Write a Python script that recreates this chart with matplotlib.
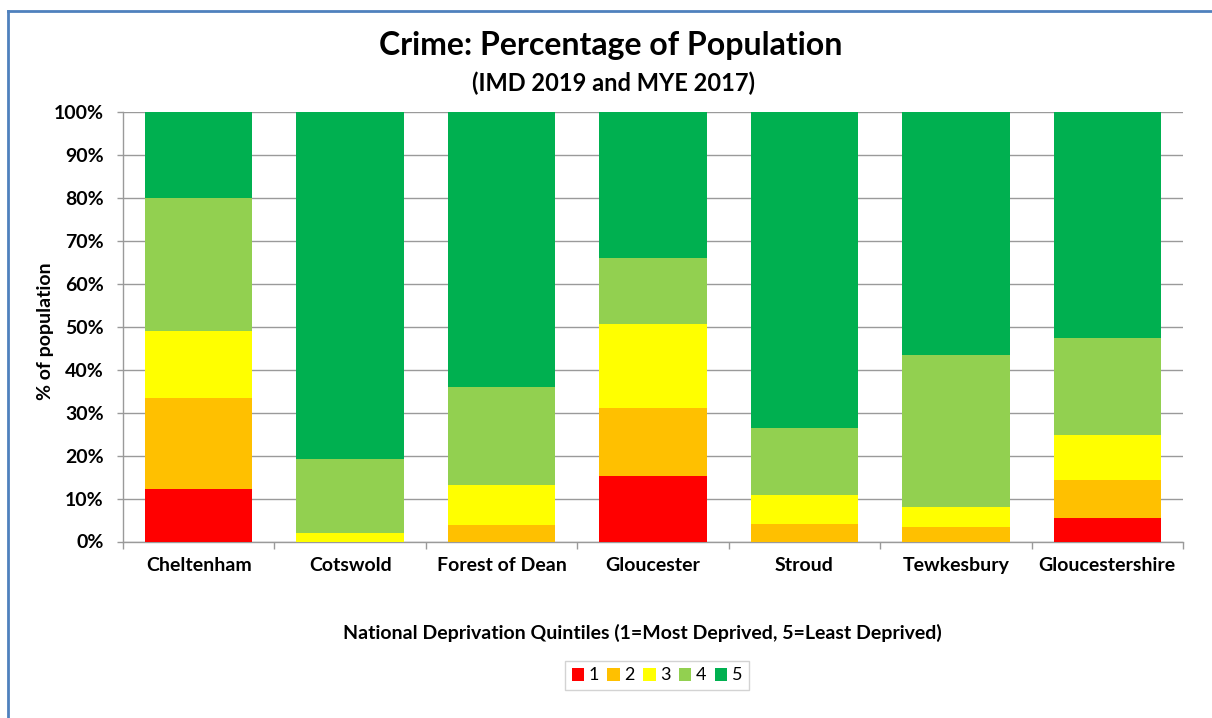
import matplotlib
matplotlib.use("Agg")
import matplotlib.pyplot as plt
from matplotlib.patches import Patch
from matplotlib.ticker import PercentFormatter
from matplotlib.lines import Line2D
import numpy as np

plt.rcParams['font.family'] = ['Lato', 'DejaVu Sans']

categories = ["Cheltenham", "Cotswold", "Forest of Dean", "Gloucester", "Stroud", "Tewkesbury", "Gloucestershire"]
q1 = [12.3, 0.0, 0.0, 15.3, 0.0, 0.0, 5.5]
q2 = [21.2, 0.0, 3.9, 15.8, 4.0, 3.4, 8.9]
q3 = [15.4, 2.0, 9.2, 19.6, 6.9, 4.6, 10.4]
q4 = [31.0, 17.2, 22.8, 15.3, 15.6, 35.4, 22.5]
q5 = [20.1, 80.8, 64.1, 34.0, 73.5, 56.6, 52.7]
series = [q1, q2, q3, q4, q5]
series_labels = ["1", "2", "3", "4", "5"]
colors = ["#FF0000", "#FFC000", "#FFFF00", "#92D050", "#00B050"]

W, H = 1212, 718
fig = plt.figure(figsize=(W / 100, H / 100), dpi=100)

def fx(px):
    return px / W

def fy(py):
    return 1 - py / H

ax = fig.add_axes([fx(123), fy(541.5), fx(1183) - fx(123), fy(112) - fy(541.5)])

x = np.arange(len(categories))
bottom = np.zeros(len(categories))
for vals, lab, c in zip(series, series_labels, colors):
    v = np.array(vals)
    ax.bar(x, v, width=0.71, bottom=bottom, color=c, label=lab, linewidth=0, zorder=3)
    bottom += v

ax.set_xlim(-0.5, len(categories) - 0.5)
ax.set_ylim(0, 100)
ax.set_yticks(np.arange(0, 101, 10))
ax.yaxis.set_major_formatter(PercentFormatter(decimals=0))
ax.grid(axis='y', color='#9a9a9a', linewidth=1, zorder=0)
ax.set_axisbelow(True)

for s in ['top', 'right']:
    ax.spines[s].set_visible(False)
for s in ['left', 'bottom']:
    ax.spines[s].set_color('#9a9a9a')
    ax.spines[s].set_linewidth(1)

ax.set_xticks(x)
ax.set_xticklabels(categories, fontsize=14, fontweight='bold')
ax.tick_params(axis='x', length=0, pad=11)
ax.set_xticks(np.arange(-0.5, len(categories)), minor=True)
ax.tick_params(axis='x', which='minor', length=5, color='#9a9a9a', width=1)
ax.tick_params(axis='y', length=4, color='#9a9a9a', width=1, labelsize=14, pad=10)
for t in ax.get_yticklabels():
    t.set_fontweight('bold')

fig.text(fx(45), fy(331), "% of population", rotation=90, ha='center', va='center',
         fontsize=14, fontweight='bold')
fig.text(fx(642), fy(633), "National Deprivation Quintiles (1=Most Deprived, 5=Least Deprived)",
         ha='center', va='center', fontsize=14, fontweight='bold')
fig.text(fx(611), fy(45), "Crime: Percentage of Population", ha='center', va='center',
         fontsize=23, fontweight='bold')
fig.text(fx(614), fy(83), "(IMD 2019 and MYE 2017)", ha='center', va='center',
         fontsize=17, fontweight='bold')

handles = [Patch(facecolor=c, edgecolor='none', label=l) for c, l in zip(colors, series_labels)]
leg = fig.legend(handles=handles, loc='center', bbox_to_anchor=(fx(657), fy(675.5)), ncol=5,
                 handlelength=0.7, handleheight=0.7, handletextpad=0.25, columnspacing=0.45,
                 fontsize=13, frameon=True, fancybox=False, borderpad=0.35, borderaxespad=0)
leg.get_frame().set_edgecolor('#c8c8c8')
leg.get_frame().set_linewidth(1)

# outer frame lines (top and left)
fig.add_artist(Line2D([fx(8), 1], [fy(11), fy(11)], color='#4F81BD', linewidth=2))
fig.add_artist(Line2D([fx(8), fx(8)], [fy(11), 0], color='#4F81BD', linewidth=2))

fig.savefig("out.png", dpi=100)
